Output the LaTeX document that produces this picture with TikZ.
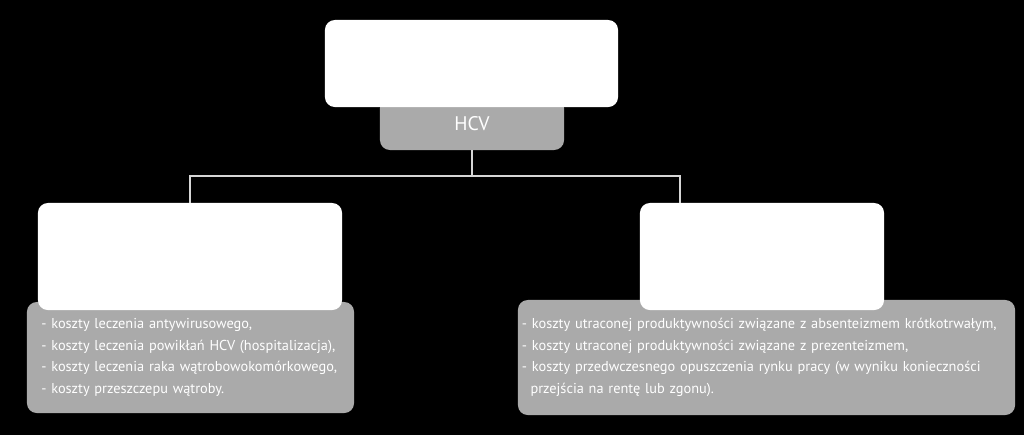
\documentclass[tikz,border=0pt]{standalone}
\usepackage{fontspec}
\setmainfont{PT Sans}
\usetikzlibrary{positioning,calc}
\definecolor{boxgray}{HTML}{AAAAAA}
\definecolor{linegray}{HTML}{D6D6D6}

\begin{document}
\begin{tikzpicture}[
  x=0.025cm,y=-0.025cm,
  font=\fontsize{10.2}{15.4}\selectfont,
  whitebox/.style={fill=white,rounded corners=7pt,inner sep=0pt},
  graybox/.style={fill=boxgray,rounded corners=7pt,text=white,align=left},
  conn/.style={linegray,line width=1.4pt}
]
\useasboundingbox[fill=black] (0,0) rectangle (1024,435);
% gray boxes first, white boxes lie on top of them
\node[graybox,minimum width=4.6cm,minimum height=1.3cm,font=\fontsize{14}{16}\selectfont] (hcv) at (472,124) {HCV};
\node[whitebox,minimum width=7.325cm,minimum height=2.175cm] (top) at (471.5,63.5) {};
\node[graybox,text width=7.455cm,inner xsep=0.36cm,minimum height=2.775cm] (lcost) at (190.5,357.5)
  {- koszty leczenia antywirusowego,\\
   - koszty leczenia powikłań HCV (hospitalizacja),\\
   - koszty leczenia raka wątrobowokomórkowego,\\
   - koszty przeszczepu wątroby.};
\node[graybox,text width=12.225cm,inner xsep=0.1cm,minimum height=2.875cm] (rcost) at (766.5,357.5)
  {- koszty utraconej produktywności związane z absenteizmem krótkotrwałym,\\
   - koszty utraconej produktywności związane z prezenteizmem,\\
   - koszty przedwczesnego opuszczenia rynku pracy (w wyniku konieczności\\
   \hspace*{0.6em}przejścia na rentę lub zgonu).};
\node[whitebox,minimum width=7.6cm,minimum height=2.675cm] (ltop) at (190,256.5) {};
\node[whitebox,minimum width=6.1cm,minimum height=2.675cm] (rtop) at (762,256.5) {};
% connectors
\coordinate (split) at (472,176);
\coordinate (rjoin) at (680,203);
\draw[conn] (hcv.south) -- (split);
\draw[conn] (ltop.north) |- (split) -| (rjoin);
\end{tikzpicture}
\end{document}
